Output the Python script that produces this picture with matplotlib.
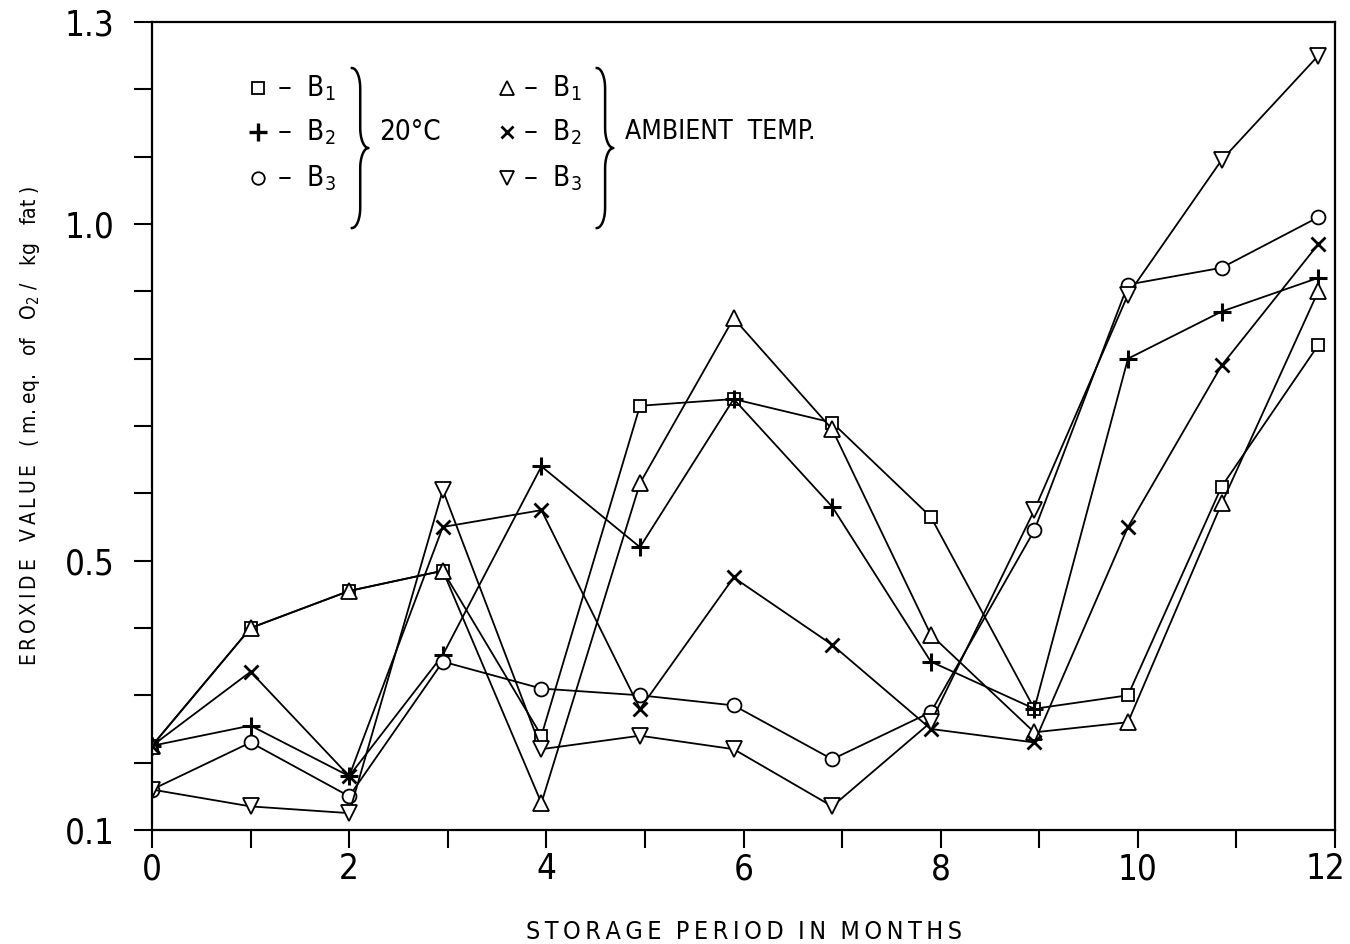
import numpy as np
import matplotlib
matplotlib.use("Agg")
import matplotlib.pyplot as plt
from matplotlib.transforms import ScaledTranslation

plt.rcParams['font.family'] = ['DejaVu Sans']
plt.rcParams['font.stretch'] = 'condensed'
plt.rcParams['mathtext.fontset'] = 'dejavusans'

# storage month (as plotted) and peroxide values
months = [0, 1, 2, 2.95, 3.95, 4.95, 5.9, 6.9, 7.9, 8.95, 9.9, 10.85, 11.83]
b1_20c = [0.225, 0.40, 0.455, 0.485, 0.24, 0.73, 0.74, 0.705, 0.565, 0.28, 0.30, 0.61, 0.82]
b2_20c = [0.225, 0.255, 0.18, 0.36, 0.64, 0.52, 0.74, 0.58, 0.35, 0.28, 0.80, 0.87, 0.92]
b3_20c = [0.16, 0.23, 0.15, 0.35, 0.31, 0.30, 0.285, 0.205, 0.275, 0.545, 0.91, 0.935, 1.01]
b1_amb = [0.225, 0.40, 0.455, 0.485, 0.14, 0.615, 0.86, 0.695, 0.39, 0.245, 0.26, 0.585, 0.90]
b2_amb = [0.225, 0.335, 0.18, 0.55, 0.575, 0.28, 0.475, 0.375, 0.25, 0.23, 0.55, 0.79, 0.97]
b3_amb = [0.16, 0.135, 0.125, 0.605, 0.22, 0.24, 0.22, 0.135, 0.26, 0.575, 0.895, 1.095, 1.25]

xticks = list(range(0, 13))
xtick_labels = ["0", "", "2", "", "4", "", "6", "", "8", "", "10", "", "12"]
yticks = [round(0.1 * i, 1) for i in range(1, 14)]
ytick_labels = ["0.1", "", "", "", "0.5", "", "", "", "", "1.0", "", "", "1.3"]

series = [
    (b1_20c, 's', 9, 1.3),
    (b2_20c, '+', 13, 2.2),
    (b3_20c, 'o', 10, 1.3),
    (b1_amb, '^', 11, 1.3),
    (b2_amb, 'x', 10, 2.0),
    (b3_amb, 'v', 11, 1.3),
]

fig = plt.figure(figsize=(13.5, 9.44), dpi=100)
ax = fig.add_axes([0.1126, 0.1208, 0.8763, 0.8559])

for vals, mk, ms, mew in series:
    ax.plot(months, vals, color='black', lw=1.3, marker=mk, ms=ms,
            mew=mew, mfc='white', mec='black')

ax.set_xlim(0, 12)
ax.set_ylim(0.1, 1.3)
ax.set_xticks(xticks)
ax.set_xticklabels(xtick_labels)
ax.set_yticks(yticks)
ax.set_yticklabels(ytick_labels)
ax.tick_params(direction='out', length=13, width=1.5, labelsize=25, pad=3)
ax.tick_params(axis='y', pad=14)
for s in ax.spines.values():
    s.set_linewidth(1.6)

# keep the last month label inside the figure
last = ax.get_xticklabels()[-1]
last.set_transform(last.get_transform() + ScaledTranslation(-7 / 72, 0, fig.dpi_scale_trans))

thin = "\u2009"
xlab = "  ".join(thin.join(w) for w in ["STORAGE", "PERIOD", "IN", "MONTHS"])
ax.set_xlabel(xlab, fontsize=18, labelpad=24)
ylab = (thin.join("EROXIDE") + "   " + thin.join("VALUE")
        + "   ( m. eq.   of   O$_2$ /   kg   fat )")
ax.text(-0.103, 0.50, ylab, transform=ax.transAxes, rotation=90,
        ha='center', va='center', fontsize=15)


def brace(x, y_bot, y_top, w=0.007, h=0.025):
    ym = (y_bot + y_top) / 2
    q = np.linspace(0, np.pi / 2, 15)
    xs, ys = [], []
    a = np.pi / 2 - q
    xs += list(x - w + w * np.cos(a)); ys += list(y_top - h + h * np.sin(a))
    a = np.pi + q
    xs += list(x + w + w * np.cos(a)); ys += list(ym + h + h * np.sin(a))
    a = np.pi / 2 + q
    xs += list(x + w + w * np.cos(a)); ys += list(ym - h + h * np.sin(a))
    a = -q
    xs += list(x - w + w * np.cos(a)); ys += list(y_bot + h + h * np.sin(a))
    ax.plot(xs, ys, color='black', lw=1.8, transform=ax.transAxes, clip_on=False)


# key drawn inside the plot
rows = [0.918, 0.864, 0.807]
left_keys = [('s', 9, 1.3, "B$_1$"), ('+', 13, 2.4, "B$_2$"), ('o', 9, 1.3, "B$_3$")]
right_keys = [('^', 10, 1.3, "B$_1$"), ('x', 9, 2.0, "B$_2$"), ('v', 10, 1.3, "B$_3$")]
for y, (mk, ms, mew, lab) in zip(rows, left_keys):
    ax.plot([0.0896], [y], marker=mk, ms=ms, mew=mew, mfc='white', mec='black',
            transform=ax.transAxes, clip_on=False)
    ax.text(0.106, y, "–  " + lab, transform=ax.transAxes, fontsize=20, va='center')
for y, (mk, ms, mew, lab) in zip(rows, right_keys):
    ax.plot([0.300], [y], marker=mk, ms=ms, mew=mew, mfc='white', mec='black',
            transform=ax.transAxes, clip_on=False)
    ax.text(0.314, y, "–  " + lab, transform=ax.transAxes, fontsize=20, va='center')

brace(0.176, 0.745, 0.943)
brace(0.383, 0.745, 0.943)
ax.text(0.192, 0.864, "20°C", transform=ax.transAxes, fontsize=20, va='center')
ax.text(0.400, 0.864, "AMBIENT  TEMP.", transform=ax.transAxes, fontsize=19, va='center')

fig.savefig("out.png", dpi=100, facecolor='white')
